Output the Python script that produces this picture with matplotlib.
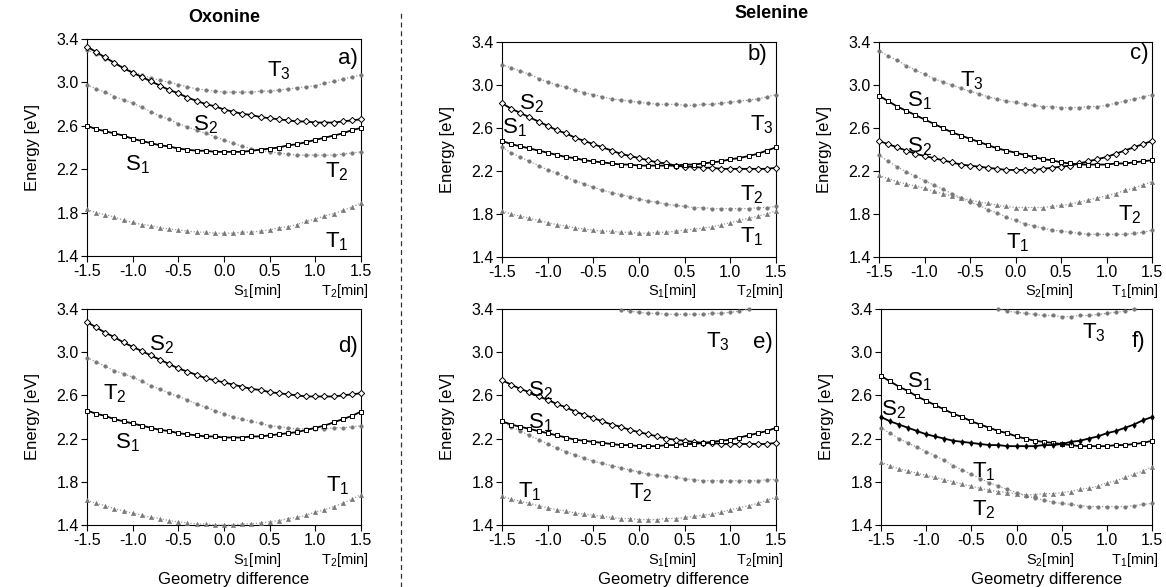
import matplotlib
matplotlib.use("Agg")
import matplotlib.pyplot as plt

plt.rcParams['font.family'] = ['Liberation Sans', 'DejaVu Sans']
plt.rcParams['mathtext.fontset'] = 'custom'
plt.rcParams['mathtext.rm'] = 'Liberation Sans'
plt.rcParams['mathtext.it'] = 'Liberation Sans:italic'

# geometry difference grid (31 points)
grid = [-1.5, -1.4, -1.3, -1.2, -1.1, -1.0, -0.9, -0.8, -0.7, -0.6, -0.5,
        -0.4, -0.3, -0.2, -0.1, 0.0, 0.1, 0.2, 0.3, 0.4, 0.5, 0.6, 0.7,
        0.8, 0.9, 1.0, 1.1, 1.2, 1.3, 1.4, 1.5]

# a) Oxonine, S1 -> T2
a_S1 = [2.60, 2.57, 2.55, 2.53, 2.51, 2.48, 2.46, 2.44, 2.42, 2.41, 2.39, 2.38, 2.37, 2.37, 2.36, 2.36,
        2.36, 2.36, 2.37, 2.38, 2.39, 2.40, 2.42, 2.43, 2.45, 2.47, 2.49, 2.51, 2.53, 2.56, 2.58]
a_S2 = [3.33, 3.28, 3.23, 3.18, 3.13, 3.09, 3.05, 3.01, 2.97, 2.93, 2.90, 2.86, 2.83, 2.80, 2.78, 2.75,
        2.73, 2.71, 2.70, 2.68, 2.67, 2.66, 2.65, 2.64, 2.64, 2.63, 2.63, 2.63, 2.64, 2.65, 2.66]
a_T1 = [1.83, 1.80, 1.78, 1.76, 1.73, 1.71, 1.69, 1.68, 1.66, 1.65, 1.64, 1.63, 1.62, 1.62, 1.61, 1.61,
        1.61, 1.62, 1.62, 1.63, 1.64, 1.66, 1.67, 1.69, 1.72, 1.74, 1.77, 1.79, 1.82, 1.85, 1.89]
a_T2 = [2.98, 2.94, 2.91, 2.87, 2.84, 2.81, 2.77, 2.73, 2.69, 2.66, 2.62, 2.59, 2.56, 2.53, 2.50, 2.47,
        2.44, 2.41, 2.39, 2.37, 2.36, 2.35, 2.34, 2.33, 2.33, 2.33, 2.33, 2.33, 2.34, 2.35, 2.36]
a_T3 = [3.30, 3.26, 3.22, 3.18, 3.14, 3.10, 3.07, 3.04, 3.02, 3.00, 2.98, 2.96, 2.94, 2.93, 2.92, 2.91,
        2.91, 2.91, 2.91, 2.92, 2.92, 2.93, 2.94, 2.95, 2.96, 2.97, 2.99, 3.01, 3.03, 3.05, 3.07]

# b) Selenine, S1 -> T2
b_S1 = [2.48, 2.45, 2.43, 2.41, 2.39, 2.37, 2.35, 2.33, 2.32, 2.30, 2.29, 2.28, 2.27, 2.26, 2.26, 2.25,
        2.25, 2.25, 2.25, 2.25, 2.26, 2.26, 2.27, 2.28, 2.29, 2.31, 2.32, 2.34, 2.36, 2.39, 2.42]
b_S2 = [2.83, 2.78, 2.74, 2.70, 2.66, 2.62, 2.58, 2.55, 2.51, 2.48, 2.45, 2.42, 2.39, 2.36, 2.34, 2.32,
        2.30, 2.28, 2.27, 2.25, 2.24, 2.24, 2.23, 2.23, 2.22, 2.22, 2.22, 2.22, 2.22, 2.22, 2.23]
b_T1 = [1.83, 1.80, 1.78, 1.76, 1.74, 1.72, 1.70, 1.69, 1.67, 1.66, 1.65, 1.64, 1.64, 1.63, 1.63, 1.62,
        1.62, 1.63, 1.63, 1.64, 1.65, 1.66, 1.67, 1.68, 1.70, 1.72, 1.74, 1.76, 1.78, 1.80, 1.83]
b_T2 = [2.42, 2.37, 2.33, 2.29, 2.25, 2.21, 2.18, 2.14, 2.11, 2.08, 2.05, 2.02, 2.00, 1.98, 1.96, 1.94,
        1.92, 1.91, 1.89, 1.88, 1.87, 1.86, 1.86, 1.85, 1.85, 1.85, 1.85, 1.85, 1.86, 1.86, 1.87]
b_T3 = [3.19, 3.16, 3.13, 3.10, 3.06, 3.03, 3.00, 2.98, 2.95, 2.93, 2.91, 2.89, 2.87, 2.86, 2.85, 2.84,
        2.83, 2.82, 2.82, 2.82, 2.81, 2.81, 2.82, 2.82, 2.83, 2.84, 2.85, 2.86, 2.87, 2.89, 2.91]

# c) Selenine, S2 -> T1
c_S1 = [2.90, 2.85, 2.80, 2.76, 2.72, 2.68, 2.64, 2.60, 2.56, 2.53, 2.50, 2.47, 2.44, 2.41, 2.39, 2.37,
        2.35, 2.33, 2.31, 2.30, 2.28, 2.27, 2.26, 2.26, 2.26, 2.26, 2.27, 2.27, 2.28, 2.29, 2.30]
c_S2 = [2.48, 2.45, 2.42, 2.39, 2.36, 2.34, 2.32, 2.30, 2.28, 2.26, 2.25, 2.24, 2.23, 2.22, 2.21, 2.21,
        2.21, 2.21, 2.22, 2.23, 2.24, 2.25, 2.27, 2.29, 2.31, 2.33, 2.36, 2.39, 2.42, 2.45, 2.48]
c_T1 = [2.35, 2.29, 2.24, 2.19, 2.15, 2.11, 2.07, 2.03, 1.99, 1.95, 1.91, 1.88, 1.84, 1.81, 1.77, 1.74,
        1.71, 1.69, 1.67, 1.65, 1.64, 1.63, 1.62, 1.61, 1.61, 1.61, 1.61, 1.61, 1.62, 1.63, 1.65]
c_T2 = [2.16, 2.13, 2.10, 2.08, 2.06, 2.04, 2.01, 1.99, 1.97, 1.95, 1.93, 1.91, 1.90, 1.88, 1.87, 1.86,
        1.86, 1.86, 1.86, 1.87, 1.88, 1.89, 1.91, 1.93, 1.95, 1.97, 1.99, 2.02, 2.04, 2.07, 2.10]
c_T3 = [3.32, 3.27, 3.23, 3.18, 3.14, 3.10, 3.06, 3.03, 3.00, 2.97, 2.94, 2.92, 2.89, 2.87, 2.85, 2.84,
        2.82, 2.81, 2.80, 2.80, 2.79, 2.79, 2.79, 2.80, 2.80, 2.81, 2.83, 2.85, 2.87, 2.89, 2.91]

# d) Oxonine, S1 -> T2 (second method)
d_S1 = [2.46, 2.43, 2.41, 2.38, 2.36, 2.34, 2.32, 2.30, 2.28, 2.27, 2.25, 2.24, 2.23, 2.22, 2.22, 2.21,
        2.21, 2.21, 2.22, 2.22, 2.23, 2.24, 2.25, 2.26, 2.28, 2.30, 2.32, 2.35, 2.38, 2.41, 2.45]
d_S2 = [3.28, 3.23, 3.18, 3.14, 3.09, 3.05, 3.01, 2.97, 2.93, 2.89, 2.85, 2.82, 2.79, 2.76, 2.74, 2.72,
        2.70, 2.68, 2.66, 2.65, 2.63, 2.62, 2.61, 2.60, 2.59, 2.59, 2.59, 2.59, 2.60, 2.61, 2.62]
d_T1 = [1.63, 1.60, 1.58, 1.55, 1.53, 1.51, 1.49, 1.47, 1.46, 1.44, 1.43, 1.42, 1.41, 1.41, 1.40, 1.40,
        1.40, 1.41, 1.41, 1.42, 1.43, 1.44, 1.46, 1.47, 1.49, 1.52, 1.54, 1.57, 1.60, 1.64, 1.68]
d_T2 = [2.95, 2.91, 2.87, 2.83, 2.80, 2.77, 2.73, 2.69, 2.66, 2.62, 2.59, 2.56, 2.52, 2.49, 2.46, 2.43,
        2.40, 2.38, 2.36, 2.34, 2.32, 2.31, 2.30, 2.29, 2.29, 2.29, 2.29, 2.30, 2.30, 2.31, 2.32]

# e) Selenine, S1 -> T2 (second method)
e_S1 = [2.36, 2.33, 2.31, 2.29, 2.27, 2.25, 2.23, 2.21, 2.19, 2.18, 2.17, 2.16, 2.15, 2.14, 2.14, 2.13,
        2.13, 2.13, 2.14, 2.14, 2.15, 2.15, 2.16, 2.17, 2.18, 2.19, 2.21, 2.23, 2.25, 2.27, 2.30]
e_S2 = [2.74, 2.70, 2.66, 2.63, 2.59, 2.56, 2.52, 2.49, 2.45, 2.42, 2.39, 2.36, 2.33, 2.31, 2.28, 2.26,
        2.24, 2.22, 2.20, 2.19, 2.18, 2.17, 2.16, 2.16, 2.15, 2.15, 2.15, 2.15, 2.15, 2.15, 2.16]
e_T1 = [1.67, 1.64, 1.62, 1.60, 1.58, 1.56, 1.54, 1.53, 1.51, 1.50, 1.49, 1.48, 1.47, 1.46, 1.46, 1.45,
        1.45, 1.45, 1.46, 1.46, 1.47, 1.48, 1.49, 1.50, 1.52, 1.54, 1.56, 1.58, 1.60, 1.63, 1.66]
e_T2 = [2.36, 2.31, 2.27, 2.23, 2.19, 2.15, 2.11, 2.08, 2.05, 2.02, 1.99, 1.97, 1.95, 1.93, 1.91, 1.89,
        1.87, 1.86, 1.85, 1.84, 1.83, 1.82, 1.81, 1.81, 1.81, 1.81, 1.81, 1.81, 1.81, 1.82, 1.82]
e_T3_x = grid[13:28]
e_T3 = [3.39, 3.38, 3.37, 3.36, 3.36, 3.35, 3.35, 3.35, 3.35, 3.35, 3.36, 3.36, 3.37, 3.38, 3.40]

# f) Selenine, S2 -> T1 (second method)
f_S1 = [2.78, 2.73, 2.68, 2.64, 2.59, 2.55, 2.51, 2.47, 2.43, 2.40, 2.36, 2.33, 2.30, 2.27, 2.25, 2.22,
        2.20, 2.18, 2.17, 2.16, 2.15, 2.14, 2.13, 2.13, 2.13, 2.13, 2.14, 2.14, 2.15, 2.16, 2.18]
f_S2 = [2.40, 2.36, 2.33, 2.30, 2.27, 2.24, 2.22, 2.20, 2.18, 2.17, 2.16, 2.15, 2.14, 2.14, 2.13, 2.13,
        2.13, 2.13, 2.14, 2.14, 2.15, 2.17, 2.18, 2.20, 2.22, 2.25, 2.27, 2.30, 2.33, 2.37, 2.40]
f_T1 = [2.30, 2.25, 2.20, 2.16, 2.12, 2.08, 2.04, 2.00, 1.95, 1.91, 1.87, 1.83, 1.79, 1.76, 1.73, 1.70,
        1.67, 1.65, 1.63, 1.61, 1.60, 1.59, 1.58, 1.57, 1.57, 1.57, 1.57, 1.57, 1.58, 1.59, 1.60]
f_T2 = [1.98, 1.95, 1.92, 1.90, 1.88, 1.86, 1.84, 1.82, 1.80, 1.78, 1.76, 1.74, 1.72, 1.71, 1.70, 1.69,
        1.68, 1.68, 1.69, 1.69, 1.70, 1.71, 1.73, 1.74, 1.76, 1.79, 1.81, 1.84, 1.87, 1.90, 1.94]
f_T3_x = grid[13:29]
f_T3 = [3.40, 3.38, 3.37, 3.36, 3.35, 3.34, 3.34, 3.33, 3.33, 3.34, 3.34, 3.35, 3.36, 3.37, 3.38, 3.40]

ticks_x = [-1.5, -1.0, -0.5, 0.0, 0.5, 1.0, 1.5]
ticks_y = [1.4, 1.8, 2.2, 2.6, 3.0, 3.4]

W, H = 1166, 587
fig = plt.figure(figsize=(W / 100, H / 100), dpi=100)


def rect(l, r, t, b):
    return [l / W, 1 - b / H, (r - l) / W, (b - t) / H]


def sub(name, i):
    return name + r'$_\mathregular{' + str(i) + '}$'


grey = '#777777'


def s_line(ax, y, m, fill='white', ms=3.2):
    ax.plot(grid, y, '-', color='black', lw=1.3, marker=m, ms=ms,
            mfc=fill, mec='black', mew=0.7, zorder=4, clip_on=False)


def t_line(ax, x, y, m, ms=2.6):
    ax.plot(x, y, linestyle=(0, (1, 1.5)), color='#9a9a9a', lw=0.9, marker=m,
            ms=ms, mfc=grey, mec=grey, mew=0.3, zorder=3, clip_on=False)


def base(ax, tag, tag_xy, mins, bottom_label):
    ax.set_xlim(-1.5, 1.5)
    ax.set_ylim(1.4, 3.4)
    ax.set_xticks(ticks_x)
    ax.set_xticklabels(['%.1f' % v for v in ticks_x])
    ax.set_yticks(ticks_y)
    ax.set_yticklabels(['%.1f' % v for v in ticks_y])
    ax.tick_params(direction='out', length=4, width=0.8, labelsize=11.5, pad=2)
    for sp in ax.spines.values():
        sp.set_linewidth(0.8)
    ax.set_ylabel('Energy [eV]', fontsize=12, labelpad=12)
    ax.text(tag_xy[0], tag_xy[1], tag, fontsize=16, ha='center', va='center')
    ax.text(0.1, -0.16, sub(mins[0][0], mins[0][1]) + '[min]', fontsize=10.5,
            transform=ax.get_xaxis_transform(), ha='left', va='center')
    ax.text(1.58, -0.16, sub(mins[1][0], mins[1][1]) + '[min]', fontsize=10.5,
            transform=ax.get_xaxis_transform(), ha='right', va='center')
    if bottom_label is not None:
        ax.text(bottom_label, -0.252, 'Geometry difference', fontsize=12,
                transform=ax.get_xaxis_transform(), ha='center', va='center')


def lab(ax, x, y, name, i):
    ax.text(x, y, sub(name, i), fontsize=16, ha='center', va='center', zorder=6)


# a)
ax = fig.add_axes(rect(87, 361, 39, 256))
t_line(ax, grid, a_T3, 'o')
t_line(ax, grid, a_T2, 'o')
t_line(ax, grid, a_T1, '^', ms=3.2)
s_line(ax, a_S2, 'D')
s_line(ax, a_S1, 's', ms=2.8)
base(ax, 'a)', (1.36, 3.22), [('S', 1), ('T', 2)], None)
lab(ax, 0.6, 3.11, 'T', 3)
lab(ax, -0.2, 2.61, 'S', 2)
lab(ax, -0.95, 2.24, 'S', 1)
lab(ax, 1.23, 2.18, 'T', 2)
lab(ax, 1.23, 1.53, 'T', 1)

# b)
ax = fig.add_axes(rect(502, 776, 42, 257))
t_line(ax, grid, b_T3, 'o')
t_line(ax, grid, b_T2, 'o')
t_line(ax, grid, b_T1, '^', ms=3.2)
s_line(ax, b_S2, 'D')
s_line(ax, b_S1, 's', ms=2.8)
base(ax, 'b)', (1.3, 3.28), [('S', 1), ('T', 2)], None)
lab(ax, -1.18, 2.83, 'S', 2)
lab(ax, -1.36, 2.60, 'S', 1)
lab(ax, 1.35, 2.63, 'T', 3)
lab(ax, 1.23, 1.98, 'T', 2)
lab(ax, 1.23, 1.59, 'T', 1)

# c)
ax = fig.add_axes(rect(879, 1152, 42, 257))
t_line(ax, grid, c_T3, 'o')
t_line(ax, grid, c_T1, 'o')
t_line(ax, grid, c_T2, '^', ms=3.2)
s_line(ax, c_S2, 'D')
s_line(ax, c_S1, 's', ms=2.8)
base(ax, 'c)', (1.36, 3.29), [('S', 2), ('T', 1)], None)
lab(ax, -0.48, 3.04, 'T', 3)
lab(ax, -1.06, 2.85, 'S', 1)
lab(ax, -1.06, 2.43, 'S', 2)
lab(ax, 1.26, 1.79, 'T', 2)
lab(ax, 0.02, 1.53, 'T', 1)

# d)
ax = fig.add_axes(rect(87, 361, 309, 525))
t_line(ax, grid, d_T2, 'o')
t_line(ax, grid, d_T1, '^', ms=3.2)
s_line(ax, d_S2, 'D')
s_line(ax, d_S1, 's', ms=2.8)
base(ax, 'd)', (1.36, 3.05), [('S', 1), ('T', 2)], 0.1)
lab(ax, -0.68, 3.07, 'S', 2)
lab(ax, -1.2, 2.62, 'T', 2)
lab(ax, -1.06, 2.16, 'S', 1)
lab(ax, 1.25, 1.76, 'T', 1)

# e)
ax = fig.add_axes(rect(502, 776, 309, 525))
t_line(ax, e_T3_x, e_T3, 'o')
t_line(ax, grid, e_T2, 'o')
t_line(ax, grid, e_T1, '^', ms=3.2)
s_line(ax, e_S2, 'D')
s_line(ax, e_S1, 's', ms=2.8)
base(ax, 'e)', (1.36, 3.09), [('S', 1), ('T', 2)], 0.38)
lab(ax, 0.86, 3.1, 'T', 3)
lab(ax, -1.08, 2.64, 'S', 2)
lab(ax, -1.08, 2.35, 'S', 1)
lab(ax, -1.2, 1.71, 'T', 1)
lab(ax, 0.02, 1.7, 'T', 2)

# f)
ax = fig.add_axes(rect(881, 1152, 309, 525))
t_line(ax, f_T3_x, f_T3, 'o')
t_line(ax, grid, f_T1, 'o')
t_line(ax, grid, f_T2, '^', ms=3.2)
s_line(ax, f_S1, 's', ms=2.8)
s_line(ax, f_S2, 'd', fill='black', ms=2.8)
base(ax, 'f)', (1.35, 3.1), [('S', 2), ('T', 1)], 0.33)
lab(ax, 0.86, 3.18, 'T', 3)
lab(ax, -1.08, 2.73, 'S', 1)
lab(ax, -1.36, 2.47, 'S', 2)
lab(ax, -0.36, 1.89, 'T', 1)
lab(ax, -0.36, 1.54, 'T', 2)

fig.text(224 / W, 1 - 17 / H, 'Oxonine', fontsize=13, fontweight='bold',
         ha='center', va='center')
fig.text(772 / W, 1 - 14 / H, 'Selenine', fontsize=13, fontweight='bold',
         ha='center', va='center')
fig.add_artist(plt.Line2D([401 / W, 401 / W], [0.0, 1 - 10 / H], transform=fig.transFigure,
                          color='#333333', lw=0.9, linestyle=(0, (4, 3))))

fig.savefig('out.png', dpi=100)
